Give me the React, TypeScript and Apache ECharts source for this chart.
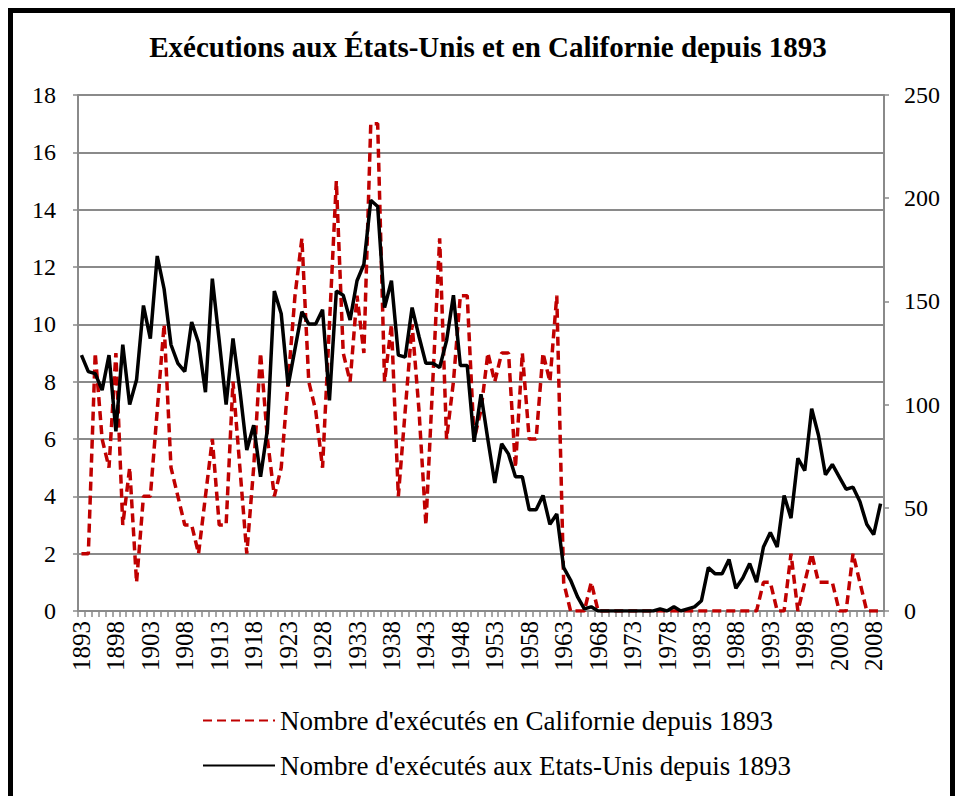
import React, { useEffect, useRef } from "react";
import * as echarts from "echarts";

const FIRST_YEAR = 1893;
const LAST_YEAR = 2009;
const years: string[] = [];
for (let y = FIRST_YEAR; y <= LAST_YEAR; y++) years.push(String(y));

// Nombre d'exécutés en Californie (axe de gauche)
const california: number[] = [
  2, 2, 9, 6, 5, 9, 3, 5, 1, 4, // 1893-1902
  4, 7, 10, 5, 4, 3, 3, 2, 4, 6, // 1903-1912
  3, 3, 8, 5, 2, 5, 9, 6, 4, 5, // 1913-1922
  8, 11, 13, 8, 7, 5, 10, 15, 9, 8, // 1923-1932
  11, 9, 17, 17, 8, 10, 4, 7, 10, 7, // 1933-1942
  3, 8, 13, 6, 8, 11, 11, 6, 7, 9, // 1943-1952
  8, 9, 9, 5, 9, 6, 6, 9, 8, 11, // 1953-1962
  1, 0, 0, 0, 1, 0, 0, 0, 0, 0, // 1963-1972
  0, 0, 0, 0, 0, 0, 0, 0, 0, 0, // 1973-1982
  0, 0, 0, 0, 0, 0, 0, 0, 0, 1, // 1983-1992
  1, 0, 0, 2, 0, 1, 2, 1, 1, 1, // 1993-2002
  0, 0, 2, 1, 0, 0, 0, // 2003-2009
];

// Nombre d'exécutés aux Etats-Unis (axe de droite)
const unitedStates: number[] = [
  124, 116, 115, 107, 124, 87, 129, 100, 112, 148, // 1893-1902
  132, 172, 156, 129, 120, 116, 140, 130, 106, 161, // 1903-1912
  131, 100, 132, 107, 78, 90, 65, 88, 155, 144, // 1913-1922
  109, 127, 145, 139, 139, 146, 102, 155, 153, 141, // 1923-1932
  160, 168, 199, 196, 147, 160, 124, 123, 147, 133, // 1933-1942
  120, 120, 118, 131, 153, 119, 119, 82, 105, 83, // 1943-1952
  62, 81, 76, 65, 65, 49, 49, 56, 42, 47, // 1953-1962
  21, 15, 7, 1, 2, 0, 0, 0, 0, 0, // 1963-1972
  0, 0, 0, 0, 1, 0, 2, 0, 1, 2, // 1973-1982
  5, 21, 18, 18, 25, 11, 16, 23, 14, 31, // 1983-1992
  38, 31, 56, 45, 74, 68, 98, 85, 66, 71, // 1993-2002
  65, 59, 60, 53, 42, 37, 52, // 2003-2009
];

const leftTicks = { min: 0, max: 18, interval: 2 };
const rightTicks = { min: 0, max: 250, interval: 50 };

const TITLE = "Exécutions aux États-Unis et en Californie depuis 1893";
const NAME_CA = "Nombre d'exécutés en Californie depuis 1893";
const NAME_US = "Nombre d'exécutés aux Etats-Unis depuis 1893";

const FONT = "'Liberation Serif', 'Times New Roman', serif";
const GRID_GRAY = "#8a8a8a";

export default function App() {
  const ref = useRef<HTMLDivElement>(null);

  useEffect(() => {
    if (!ref.current) return;
    const chart = echarts.init(ref.current, undefined, { renderer: "svg" });
    chart.setOption({
      animation: false,
      backgroundColor: "transparent",
      textStyle: { fontFamily: FONT, color: "#000" },
      graphic: [
        {
          type: "text",
          x: 488,
          y: 47,
          style: {
            text: TITLE,
            font: `bold 29px ${FONT}`,
            fill: "#000",
            textAlign: "center",
            textVerticalAlign: "middle",
          },
        },
      ],
      grid: { left: 78, right: 71, top: 95, bottom: 185, containLabel: false },
      legend: {
        orient: "vertical",
        left: 197,
        top: 702,
        itemWidth: 72,
        itemHeight: 14,
        itemGap: 18,
        itemStyle: { opacity: 0 },
        textStyle: { fontSize: 27, color: "#000", fontFamily: FONT },
        data: [NAME_CA, NAME_US],
      },
      xAxis: {
        type: "category",
        data: years,
        boundaryGap: true,
        axisLine: { show: true, lineStyle: { color: GRID_GRAY, width: 2 } },
        axisTick: {
          show: true,
          interval: 0,
          length: 6,
          lineStyle: { color: GRID_GRAY, width: 1.5 },
        },
        axisLabel: {
          interval: 4,
          rotate: 90,
          fontSize: 25,
          color: "#000",
          fontFamily: FONT,
          margin: 10,
        },
        splitLine: { show: false },
      },
      yAxis: [
        {
          type: "value",
          position: "left",
          ...leftTicks,
          axisLine: { show: true, lineStyle: { color: GRID_GRAY, width: 2 } },
          axisTick: { show: true, length: 5, lineStyle: { color: GRID_GRAY, width: 1.5 } },
          axisLabel: { fontSize: 24, color: "#000", fontFamily: FONT, margin: 22 },
          splitLine: { show: true, lineStyle: { color: GRID_GRAY, width: 2 } },
        },
        {
          type: "value",
          position: "right",
          ...rightTicks,
          axisLine: { show: true, lineStyle: { color: GRID_GRAY, width: 2 } },
          axisTick: { show: true, length: 5, lineStyle: { color: GRID_GRAY, width: 1.5 } },
          axisLabel: { fontSize: 24, color: "#000", fontFamily: FONT, margin: 20 },
          splitLine: { show: false },
        },
      ],
      series: [
        {
          name: NAME_CA,
          type: "line",
          yAxisIndex: 0,
          data: california,
          showSymbol: false,
          symbol: "none",
          color: "#C00000",
          lineStyle: { color: "#C00000", width: 3.5, type: [9, 5] },
        },
        {
          name: NAME_US,
          type: "line",
          yAxisIndex: 1,
          data: unitedStates,
          showSymbol: false,
          symbol: "none",
          color: "#000000",
          lineStyle: { color: "#000000", width: 3.5, type: "solid" },
        },
      ],
    });
    return () => chart.dispose();
  }, []);

  return (
    <>
      <div
        style={{
          position: "fixed",
          left: 8,
          top: 8,
          width: 947,
          height: 800,
          boxSizing: "border-box",
          borderLeft: "5px solid #000",
          borderTop: "5px solid #000",
          borderRight: "5px solid #000",
          background: "#fff",
        }}
      />
      <div
        ref={ref}
        style={{ position: "fixed", left: 0, top: 0, width: 955, height: 796 }}
      />
    </>
  );
}
